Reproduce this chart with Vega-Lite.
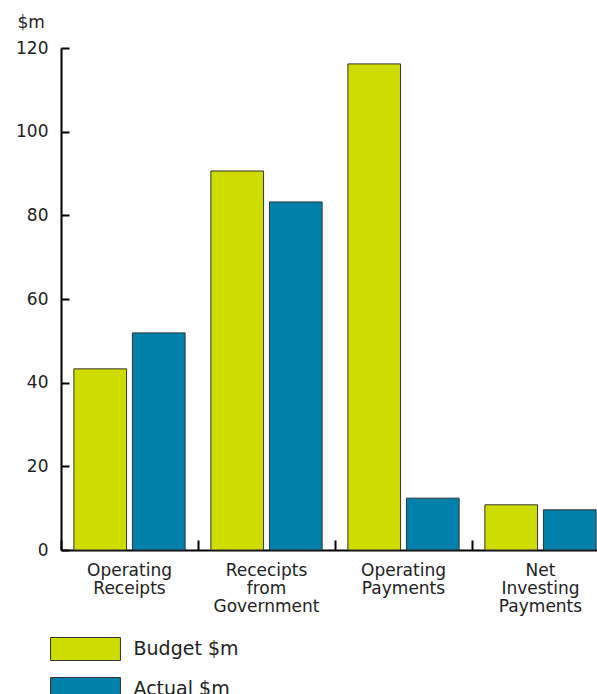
{
  "$schema": "https://vega.github.io/schema/vega-lite/v6.json",
  "width": 548,
  "height": 502,
  "autosize": {"type": "none"},
  "padding": {"left": 61, "top": 48, "right": 0, "bottom": 144},
  "background": "white",
  "config": {
    "view": {"stroke": null},
    "font": "DejaVu Sans"
  },
  "data": {
    "values": [
      {"category": "Operating Receipts", "series": "Budget $m", "value": 43.3},
      {"category": "Operating Receipts", "series": "Actual $m", "value": 51.9},
      {"category": "Rececipts from Government", "series": "Budget $m", "value": 90.6},
      {"category": "Rececipts from Government", "series": "Actual $m", "value": 83.2},
      {"category": "Operating Payments", "series": "Budget $m", "value": 116.2},
      {"category": "Operating Payments", "series": "Actual $m", "value": 12.4},
      {"category": "Net Investing Payments", "series": "Budget $m", "value": 10.8},
      {"category": "Net Investing Payments", "series": "Actual $m", "value": 9.6}
    ]
  },
  "mark": {"type": "bar", "stroke": "#333333", "strokeWidth": 1},
  "encoding": {
    "x": {
      "field": "category",
      "type": "nominal",
      "sort": ["Operating Receipts", "Rececipts from Government", "Operating Payments", "Net Investing Payments"],
      "scale": {"paddingInner": 0, "paddingOuter": 0},
      "axis": {
        "title": null,
        "labelAngle": 0,
        "labelExpr": "split(datum.label, ' ')",
        "labelFontSize": 17,
        "labelColor": "#222222",
        "labelLineHeight": 18,
        "labelBaseline": "top",
        "labelPadding": 22,
        "bandPosition": 0,
        "tickSize": -10,
        "tickWidth": 2,
        "tickColor": "#000000",
        "domainColor": "#000000",
        "domainWidth": 2,
        "labelBound": false,
        "labelOverlap": false
      }
    },
    "xOffset": {
      "field": "series",
      "type": "nominal",
      "sort": ["Budget $m", "Actual $m"],
      "scale": {"paddingInner": 0.1, "paddingOuter": 0.22}
    },
    "y": {
      "field": "value",
      "type": "quantitative",
      "scale": {"domain": [0, 120], "nice": false},
      "axis": {
        "title": "$m",
        "titleAngle": 0,
        "titleAlign": "left",
        "titleBaseline": "alphabetic",
        "titleX": -44,
        "titleY": -21,
        "titleFontSize": 17,
        "titleFontWeight": "normal",
        "titleColor": "#222222",
        "values": [0, 20, 40, 60, 80, 100, 120],
        "grid": false,
        "labelFontSize": 17,
        "labelColor": "#222222",
        "labelPadding": 21,
        "tickSize": -8,
        "tickWidth": 2,
        "tickColor": "#000000",
        "domainColor": "#000000",
        "domainWidth": 2
      }
    },
    "color": {
      "field": "series",
      "type": "nominal",
      "sort": ["Budget $m", "Actual $m"],
      "scale": {"domain": ["Budget $m", "Actual $m"], "range": ["#CEDC00", "#0080AB"]},
      "legend": {
        "title": null,
        "orient": "none",
        "legendX": 12.5,
        "legendY": 589,
        "direction": "vertical",
        "symbolType": "M-3.04,-1L3.04,-1L3.04,1L-3.04,1Z",
        "symbolSize": 529,
        "symbolStrokeColor": "#333333",
        "symbolStrokeWidth": 1,
        "symbolOpacity": 1,
        "labelFontSize": 19,
        "labelColor": "#222222",
        "labelOffset": 36,
        "rowPadding": 12,
        "padding": 0
      }
    }
  }
}
